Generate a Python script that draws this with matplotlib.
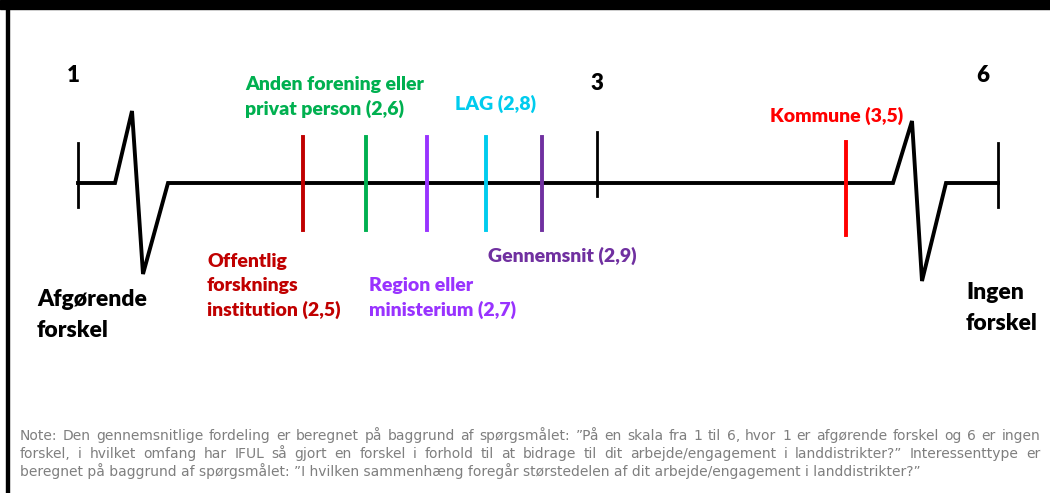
import matplotlib
matplotlib.use('Agg')
import matplotlib.pyplot as plt
import numpy as np

# averages per interest type (scale 1-6)
groups = ['Offentlig\nforsknings\ninstitution (2,5)', 'Anden forening eller\nprivat person (2,6)',
          'Region eller\nministerium (2,7)', 'LAG (2,8)', 'Gennemsnit (2,9)', 'Kommune (3,5)']
values = [2.5, 2.6, 2.7, 2.8, 2.9, 3.5]
colors = ['#C00000', '#00B050', '#9933FF', '#00CCEE', '#7030A0', '#FF0000']

note_lines = [
    "Note: Den gennemsnitlige fordeling er beregnet på baggrund af spørgsmålet: \u201dPå en skala fra 1 til 6, hvor 1 er afgørende forskel og 6 er ingen",
    "forskel, i hvilket omfang har IFUL så gjort en forskel i forhold til at bidrage til dit arbejde/engagement i landdistrikter?\u201d Interessenttype er",
    "beregnet på baggrund af spørgsmålet: \u201dI hvilken sammenhæng foregår størstedelen af dit arbejde/engagement i landdistrikter?\u201d",
]

W, H = 1050, 493
fig = plt.figure(figsize=(W / 100, H / 100), dpi=100)
ax = fig.add_axes([0, 0, 1, 1])
ax.set_xscale('log')
x0, x1 = 2.072, 3.972          # visible stretch of the scale
ax.set_xlim(x0, x1)
ax.set_ylim(H, 0)
ax.axis('off')

# pixel x -> data x (for decoration only)
def px(p):
    return float(np.exp(np.log(x0) + p / W * (np.log(x1) - np.log(x0))))

lab = dict(family=['Lato', 'DejaVu Sans'], fontweight='heavy')

# frame
fig.patches.append(plt.Rectangle((0, 1 - 9 / H), 1, 9 / H, transform=fig.transFigure, color='black'))
fig.patches.append(plt.Rectangle((6 / W, 0), 2.5 / W, 1, transform=fig.transFigure, color='black'))

# axis line with breaks at both ends
ly = 183
ax.plot([px(78), px(115), px(132), px(143), px(168), px(893), px(912), px(922), px(946), px(998)],
        [ly, ly, 111, 274, ly, ly, 121, 281, ly, ly], color='black', lw=2.8, solid_joinstyle='miter')
ax.plot([px(78), px(78)], [143, 207], color='black', lw=2)
ax.plot([px(998), px(998)], [143, 207], color='black', lw=2)
ax.plot([3.0, 3.0], [132, 196], color='black', lw=2)
ax.text(px(73), 76, '1', ha='center', va='center', fontsize=16, **lab)
ax.text(3.0, 84, '3', ha='center', va='center', fontsize=16, **lab)
ax.text(px(983), 76, '6', ha='center', va='center', fontsize=16, **lab)
ax.text(px(37), 315, 'Afgørende\nforskel', ha='left', va='center', fontsize=16.5, linespacing=1.6, **lab)
ax.text(px(966), 308, 'Ingen\nforskel', ha='left', va='center', fontsize=16.5, linespacing=1.6, **lab)

# markers and labels
label_pos = {
    'Offentlig': (207, 286, 'left'),
    'Anden': (245, 97, 'left'),
    'Region': (369, 298, 'left'),
    'LAG': (496, 104, 'center'),
    'Gennemsnit': (562, 256, 'center'),
    'Kommune': (837, 116, 'center'),
}
for g, v, c in zip(groups, values, colors):
    top, bot = (142, 235) if v > 3 else (137, 230)
    ax.plot([v, v], [top, bot], color=c, lw=2.8)
    lx, lyy, ha = label_pos[g.split()[0]]
    ax.text(px(lx), lyy, g, color=c, ha=ha, va='center', fontsize=14, linespacing=1.5, **lab)

# justified note text
nfont = dict(family='DejaVu Sans', fontsize=10, color='#7F7F7F')
r = fig.canvas.get_renderer()
left, right = 20, 1040
for i, line in enumerate(note_lines):
    y = 440 + i * 18.2
    words = line.split(' ')
    if i == len(note_lines) - 1:
        ax.text(px(left), y, line, ha='left', va='baseline', **nfont)
        continue
    ts = [ax.text(0, y, w, ha='left', va='baseline', **nfont) for w in words]
    widths = [t.get_window_extent(r).width for t in ts]
    gap = (right - left - sum(widths)) / (len(words) - 1)
    xp = left
    for t, w in zip(ts, widths):
        t.set_x(px(xp))
        xp += w + gap

fig.savefig('out.png', dpi=100)
